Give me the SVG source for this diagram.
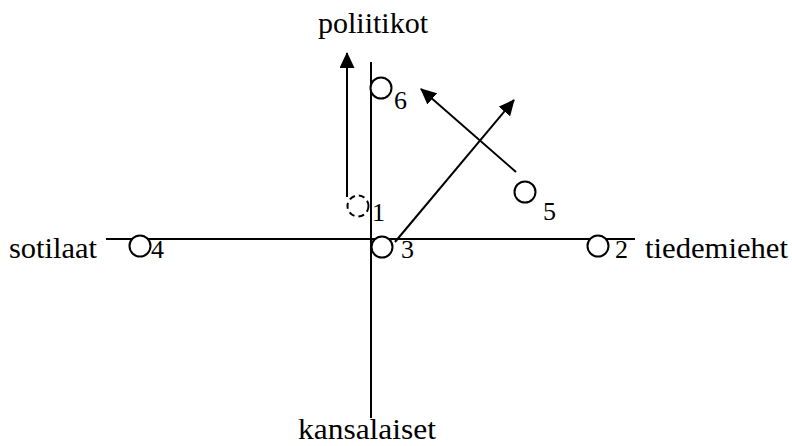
<svg xmlns="http://www.w3.org/2000/svg" width="792" height="446" viewBox="0 0 792 446">
<style>
.ax{stroke:#000;stroke-width:2;fill:none}
.ar{stroke:#000;stroke-width:2;fill:none;marker-end:url(#ah)}
.c{fill:#fff;stroke:#000;stroke-width:2}
.cd{fill:#fff;stroke:#000;stroke-width:2;stroke-dasharray:6 4}
text{font-family:"Liberation Serif","Times New Roman",serif;fill:#000}
.lb{font-size:29px}
.n{font-size:26px}
</style>
<defs>
<marker id="ah" viewBox="0 0 16 15" refX="15" refY="7.5" markerWidth="16" markerHeight="15" markerUnits="userSpaceOnUse" orient="auto">
<path d="M0,0 L16,7.5 L0,15 Z" fill="#000"/>
</marker>
</defs>
<rect width="792" height="446" fill="#fff"/>
<g id="axes">
<line class="ax" x1="371" y1="62" x2="371" y2="418"/>
<line class="ax" x1="106" y1="239" x2="635" y2="239"/>
</g>
<g id="connectors">
<line class="ar" x1="347" y1="197" x2="347" y2="53"/>
<line class="ar" x1="395" y1="242" x2="514" y2="100"/>
<line class="ar" x1="516" y1="172" x2="421" y2="89"/>
</g>
<g id="labels">
<text class="lb" x="318" y="33" textLength="110" lengthAdjust="spacingAndGlyphs">poliitikot</text>
<text class="lb" x="298" y="439" textLength="138" lengthAdjust="spacingAndGlyphs">kansalaiset</text>
<text class="lb" x="9" y="258" textLength="88" lengthAdjust="spacingAndGlyphs">sotilaat</text>
<text class="lb" x="645" y="258" textLength="143" lengthAdjust="spacingAndGlyphs">tiedemiehet</text>
</g>
<g id="node1"><circle class="cd" cx="358" cy="206" r="10.5"/><text class="n" x="372" y="221">1</text></g>
<g id="node2"><circle class="c" cx="598" cy="246" r="10.5"/><text class="n" x="615" y="258">2</text></g>
<g id="node3"><circle class="c" cx="382" cy="247" r="10.5"/><text class="n" x="401" y="258">3</text></g>
<g id="node4"><circle class="c" cx="140" cy="246" r="10.5"/><text class="n" x="151" y="258">4</text></g>
<g id="node5"><circle class="c" cx="525" cy="192" r="10.5"/><text class="n" x="543" y="220">5</text></g>
<g id="node6"><circle class="c" cx="381" cy="88" r="10.5"/><text class="n" x="394" y="109">6</text></g>
</svg>
